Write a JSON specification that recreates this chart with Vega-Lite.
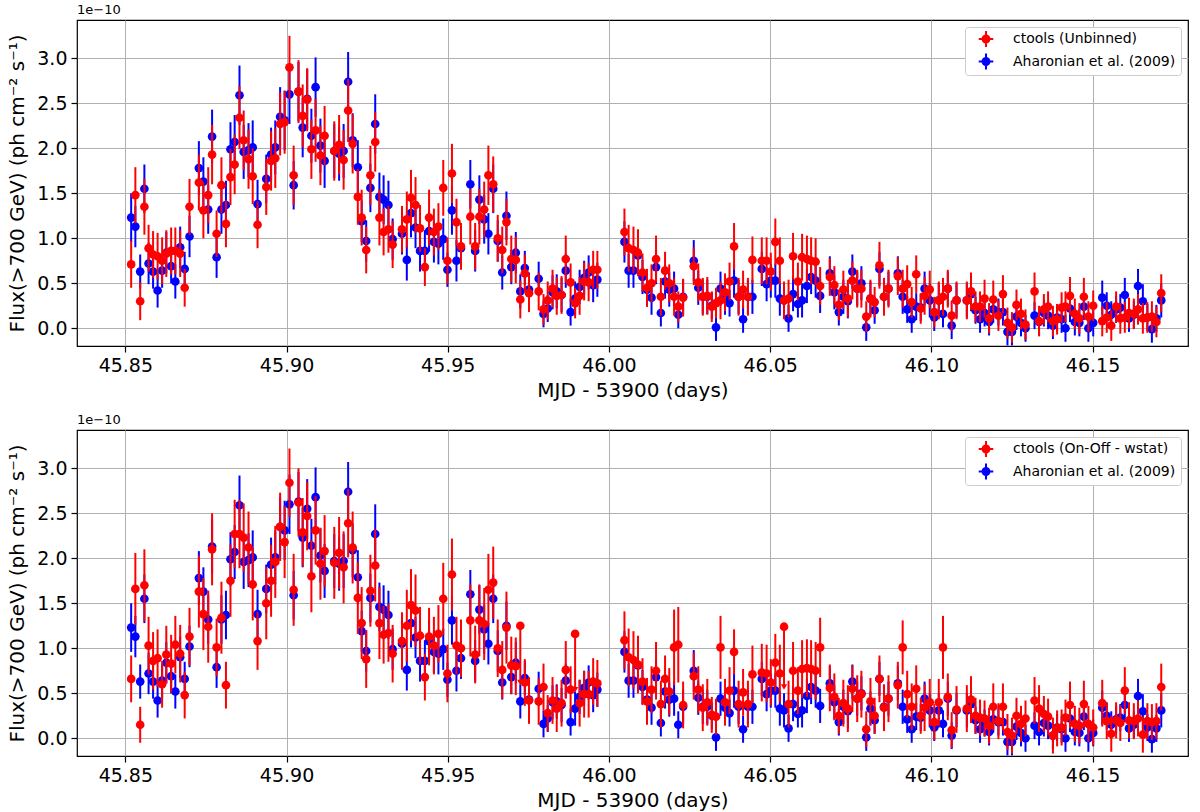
{
"$schema":"https://vega.github.io/schema/vega-lite/v6.json",
"autosize":{"type":"pad"},
"padding":{"left":7,"top":3,"right":10,"bottom":0},
"background":"white",
"data":{"values":[
{"t":45.8518,"b":1.23,"be":0.27,"r":0.71,"re":0.26,"s":0.66,"se":0.26},
{"t":45.8531,"b":1.13,"be":0.23,"r":1.48,"re":0.31,"s":1.66,"se":0.40},
{"t":45.8546,"b":0.63,"be":0.19,"r":0.30,"re":0.21,"s":0.15,"se":0.20},
{"t":45.8559,"b":1.55,"be":0.27,"r":1.35,"re":0.31,"s":1.70,"se":0.40},
{"t":45.8572,"b":0.72,"be":0.23,"r":0.89,"re":0.26,"s":1.03,"se":0.32},
{"t":45.8586,"b":0.63,"be":0.19,"r":0.82,"re":0.26,"s":0.86,"se":0.32},
{"t":45.8600,"b":0.42,"be":0.19,"r":0.80,"re":0.26,"s":0.89,"se":0.32},
{"t":45.8614,"b":0.64,"be":0.19,"r":0.75,"re":0.26,"s":0.60,"se":0.26},
{"t":45.8627,"b":0.84,"be":0.23,"r":0.83,"re":0.26,"s":0.93,"se":0.32},
{"t":45.8642,"b":0.69,"be":0.19,"r":0.86,"re":0.26,"s":0.83,"se":0.32},
{"t":45.8655,"b":0.52,"be":0.19,"r":0.86,"re":0.26,"s":1.04,"se":0.32},
{"t":45.8670,"b":0.90,"be":0.23,"r":0.83,"re":0.26,"s":0.94,"se":0.32},
{"t":45.8684,"b":0.66,"be":0.19,"r":0.45,"re":0.21,"s":0.48,"se":0.26},
{"t":45.8699,"b":1.02,"be":0.23,"r":1.35,"re":0.31,"s":1.13,"se":0.32},
{"t":45.8728,"b":1.78,"be":0.30,"r":1.62,"re":0.31,"s":1.63,"se":0.40},
{"t":45.8742,"b":1.63,"be":0.27,"r":1.31,"re":0.31,"s":1.38,"se":0.40},
{"t":45.8757,"b":1.32,"be":0.27,"r":1.48,"re":0.31,"s":1.24,"se":0.40},
{"t":45.8769,"b":2.13,"be":0.30,"r":1.93,"re":0.33,"s":2.10,"se":0.40},
{"t":45.8783,"b":0.79,"be":0.23,"r":1.05,"re":0.26,"s":1.01,"se":0.32},
{"t":45.8798,"b":1.32,"be":0.27,"r":1.59,"re":0.31,"s":1.34,"se":0.40},
{"t":45.8812,"b":1.37,"be":0.27,"r":1.16,"re":0.26,"s":0.59,"se":0.26},
{"t":45.8826,"b":1.99,"be":0.30,"r":1.68,"re":0.31,"s":1.75,"se":0.40},
{"t":45.8839,"b":2.07,"be":0.30,"r":1.82,"re":0.33,"s":2.27,"se":0.38},
{"t":45.8854,"b":2.59,"be":0.33,"r":2.34,"re":0.35,"s":2.27,"se":0.38},
{"t":45.8867,"b":1.96,"be":0.30,"r":2.09,"re":0.33,"s":2.23,"se":0.38},
{"t":45.8882,"b":1.98,"be":0.30,"r":1.88,"re":0.33,"s":2.12,"se":0.40},
{"t":45.8895,"b":2.01,"be":0.30,"r":1.69,"re":0.31,"s":1.71,"se":0.40},
{"t":45.8910,"b":1.38,"be":0.27,"r":1.15,"re":0.26,"s":1.08,"se":0.32},
{"t":45.8937,"b":1.66,"be":0.27,"r":1.57,"re":0.31,"s":1.50,"se":0.40},
{"t":45.8952,"b":1.93,"be":0.30,"r":1.86,"re":0.33,"s":1.75,"se":0.40},
{"t":45.8965,"b":2.01,"be":0.30,"r":1.89,"re":0.33,"s":1.96,"se":0.40},
{"t":45.8980,"b":2.35,"be":0.33,"r":2.27,"re":0.35,"s":2.35,"se":0.38},
{"t":45.8994,"b":2.31,"be":0.33,"r":2.29,"re":0.35,"s":2.18,"se":0.40},
{"t":45.9009,"b":2.60,"be":0.33,"r":2.90,"re":0.35,"s":2.84,"se":0.38},
{"t":45.9022,"b":1.59,"be":0.27,"r":1.70,"re":0.33,"s":1.65,"se":0.40},
{"t":45.9037,"b":2.63,"be":0.33,"r":2.63,"re":0.35,"s":2.62,"se":0.38},
{"t":45.9050,"b":2.23,"be":0.33,"r":2.36,"re":0.35,"s":2.29,"se":0.38},
{"t":45.9064,"b":2.55,"be":0.33,"r":2.54,"re":0.35,"s":2.47,"se":0.38},
{"t":45.9077,"b":2.14,"be":0.30,"r":1.99,"re":0.33,"s":1.80,"se":0.40},
{"t":45.9090,"b":2.68,"be":0.33,"r":2.20,"re":0.35,"s":2.31,"se":0.38},
{"t":45.9105,"b":2.03,"be":0.30,"r":1.92,"re":0.33,"s":1.94,"se":0.40},
{"t":45.9118,"b":1.86,"be":0.30,"r":2.14,"re":0.33,"s":2.08,"se":0.40},
{"t":45.9148,"b":1.97,"be":0.30,"r":1.97,"re":0.33,"s":1.95,"se":0.40},
{"t":45.9163,"b":1.94,"be":0.30,"r":2.04,"re":0.33,"s":2.06,"se":0.40},
{"t":45.9177,"b":1.97,"be":0.30,"r":1.87,"re":0.33,"s":1.90,"se":0.40},
{"t":45.9191,"b":2.74,"be":0.33,"r":2.42,"re":0.35,"s":2.39,"se":0.38},
{"t":45.9205,"b":2.09,"be":0.30,"r":2.05,"re":0.33,"s":2.12,"se":0.40},
{"t":45.9221,"b":1.79,"be":0.30,"r":1.46,"re":0.31,"s":1.56,"se":0.40},
{"t":45.9233,"b":1.19,"be":0.23,"r":1.23,"re":0.31,"s":1.28,"se":0.40},
{"t":45.9247,"b":0.97,"be":0.23,"r":0.87,"re":0.26,"s":0.88,"se":0.32},
{"t":45.9260,"b":1.56,"be":0.27,"r":1.70,"re":0.33,"s":1.64,"se":0.40},
{"t":45.9275,"b":2.27,"be":0.33,"r":2.07,"re":0.33,"s":1.92,"se":0.40},
{"t":45.9288,"b":1.46,"be":0.27,"r":1.23,"re":0.31,"s":1.28,"se":0.40},
{"t":45.9301,"b":1.43,"be":0.27,"r":1.07,"re":0.26,"s":1.15,"se":0.32},
{"t":45.9316,"b":1.37,"be":0.27,"r":1.10,"re":0.26,"s":1.17,"se":0.32},
{"t":45.9329,"b":0.99,"be":0.23,"r":0.93,"re":0.26,"s":0.94,"se":0.32},
{"t":45.9358,"b":1.05,"be":0.23,"r":1.10,"re":0.26,"s":1.08,"se":0.32},
{"t":45.9373,"b":0.76,"be":0.23,"r":1.21,"re":0.31,"s":1.25,"se":0.40},
{"t":45.9386,"b":1.28,"be":0.27,"r":1.45,"re":0.31,"s":1.48,"se":0.40},
{"t":45.9400,"b":1.12,"be":0.23,"r":1.37,"re":0.31,"s":1.42,"se":0.40},
{"t":45.9414,"b":0.86,"be":0.23,"r":1.11,"re":0.26,"s":1.14,"se":0.32},
{"t":45.9429,"b":0.86,"be":0.23,"r":0.68,"re":0.21,"s":0.68,"se":0.26},
{"t":45.9442,"b":1.08,"be":0.23,"r":1.23,"re":0.31,"s":1.13,"se":0.32},
{"t":45.9457,"b":0.96,"be":0.23,"r":1.07,"re":0.26,"s":1.03,"se":0.32},
{"t":45.9471,"b":0.94,"be":0.23,"r":1.13,"re":0.26,"s":1.16,"se":0.32},
{"t":45.9486,"b":0.99,"be":0.23,"r":1.56,"re":0.31,"s":1.55,"se":0.40},
{"t":45.9499,"b":0.65,"be":0.19,"r":0.75,"re":0.26,"s":0.72,"se":0.32},
{"t":45.9513,"b":1.31,"be":0.27,"r":1.72,"re":0.33,"s":1.82,"se":0.40},
{"t":45.9527,"b":0.75,"be":0.23,"r":1.18,"re":0.26,"s":1.03,"se":0.32},
{"t":45.9541,"b":0.89,"be":0.23,"r":0.91,"re":0.26,"s":1.00,"se":0.32},
{"t":45.9570,"b":1.60,"be":0.27,"r":1.24,"re":0.31,"s":1.31,"se":0.40},
{"t":45.9585,"b":0.86,"be":0.23,"r":0.91,"re":0.26,"s":0.93,"se":0.32},
{"t":45.9598,"b":1.43,"be":0.27,"r":1.24,"re":0.31,"s":1.31,"se":0.40},
{"t":45.9613,"b":1.21,"be":0.27,"r":1.32,"re":0.31,"s":1.27,"se":0.40},
{"t":45.9626,"b":1.05,"be":0.23,"r":1.70,"re":0.33,"s":1.65,"se":0.40},
{"t":45.9641,"b":1.55,"be":0.27,"r":1.60,"re":0.31,"s":1.73,"se":0.40},
{"t":45.9655,"b":0.97,"be":0.23,"r":1.00,"re":0.26,"s":1.00,"se":0.32},
{"t":45.9669,"b":0.62,"be":0.19,"r":0.87,"re":0.26,"s":0.76,"se":0.32},
{"t":45.9682,"b":1.25,"be":0.27,"r":1.18,"re":0.26,"s":1.23,"se":0.40},
{"t":45.9697,"b":0.68,"be":0.19,"r":0.77,"re":0.26,"s":0.81,"se":0.32},
{"t":45.9711,"b":0.84,"be":0.23,"r":0.76,"re":0.26,"s":0.80,"se":0.32},
{"t":45.9725,"b":0.41,"be":0.19,"r":0.32,"re":0.21,"s":1.25,"se":0,"u":0.62},
{"t":45.9739,"b":0.67,"be":0.19,"r":0.61,"re":0.21,"s":0.62,"se":0.26},
{"t":45.9752,"b":0.43,"be":0.19,"r":0.39,"re":0.21,"s":0.42,"se":0.26},
{"t":45.9782,"b":0.55,"be":0.19,"r":0.41,"re":0.21,"s":0.41,"se":0.26},
{"t":45.9797,"b":0.16,"be":0.15,"r":0.21,"re":0.17,"s":0.57,"se":0.26},
{"t":45.9810,"b":0.22,"be":0.15,"r":0.31,"re":0.21,"s":0.28,"se":0.20},
{"t":45.9825,"b":0.40,"be":0.19,"r":0.44,"re":0.21,"s":0.42,"se":0.26},
{"t":45.9838,"b":0.41,"be":0.19,"r":0.36,"re":0.21,"s":0.33,"se":0.26},
{"t":45.9853,"b":0.37,"be":0.19,"r":0.37,"re":0.21,"s":0.39,"se":0.26},
{"t":45.9866,"b":0.64,"be":0.19,"r":0.77,"re":0.26,"s":0.76,"se":0.32},
{"t":45.9881,"b":0.18,"be":0.15,"r":0.51,"re":0.21,"s":0.54,"se":0.26},
{"t":45.9895,"b":0.33,"be":0.19,"r":0.28,"re":0.17,"s":1.16,"se":0,"u":0.54},
{"t":45.9909,"b":0.46,"be":0.19,"r":0.36,"re":0.21,"s":0.39,"se":0.26},
{"t":45.9923,"b":0.56,"be":0.19,"r":0.52,"re":0.21,"s":0.49,"se":0.26},
{"t":45.9937,"b":0.62,"be":0.19,"r":0.51,"re":0.21,"s":0.49,"se":0.26},
{"t":45.9951,"b":0.48,"be":0.19,"r":0.65,"re":0.21,"s":0.63,"se":0.26},
{"t":45.9964,"b":0.54,"be":0.19,"r":0.65,"re":0.21,"s":0.61,"se":0.26},
{"t":46.0048,"b":0.96,"be":0.23,"r":1.07,"re":0.26,"s":1.09,"se":0.32},
{"t":46.0061,"b":0.64,"be":0.19,"r":0.89,"re":0.26,"s":0.90,"se":0.32},
{"t":46.0076,"b":0.64,"be":0.19,"r":0.87,"re":0.26,"s":0.87,"se":0.32},
{"t":46.0090,"b":0.81,"be":0.23,"r":0.84,"re":0.26,"s":0.82,"se":0.32},
{"t":46.0104,"b":0.57,"be":0.19,"r":0.62,"re":0.21,"s":0.63,"se":0.26},
{"t":46.0118,"b":0.43,"be":0.19,"r":0.45,"re":0.21,"s":0.41,"se":0.26},
{"t":46.0132,"b":0.34,"be":0.19,"r":0.50,"re":0.21,"s":0.54,"se":0.26},
{"t":46.0146,"b":0.68,"be":0.19,"r":0.77,"re":0.26,"s":0.75,"se":0.32},
{"t":46.0161,"b":0.17,"be":0.15,"r":0.35,"re":0.21,"s":0.38,"se":0.26},
{"t":46.0174,"b":0.52,"be":0.19,"r":0.64,"re":0.21,"s":0.66,"se":0.26},
{"t":46.0187,"b":0.43,"be":0.19,"r":0.50,"re":0.21,"s":0.52,"se":0.26},
{"t":46.0202,"b":0.44,"be":0.19,"r":0.35,"re":0.21,"s":1.01,"se":0.42},
{"t":46.0215,"b":0.15,"be":0.15,"r":0.24,"re":0.17,"s":1.04,"se":0.42},
{"t":46.0230,"b":0.35,"be":0.19,"r":0.34,"re":0.21,"s":0.37,"se":0.26},
{"t":46.0263,"b":0.75,"be":0.23,"r":0.69,"re":0.21,"s":0.69,"se":0.26},
{"t":46.0277,"b":0.45,"be":0.19,"r":0.51,"re":0.21,"s":0.54,"se":0.26},
{"t":46.0291,"b":0.35,"be":0.19,"r":0.35,"re":0.21,"s":0.34,"se":0.26},
{"t":46.0305,"b":0.35,"be":0.19,"r":0.36,"re":0.21,"s":0.40,"se":0.26},
{"t":46.0319,"b":0.25,"be":0.15,"r":0.24,"re":0.17,"s":0.26,"se":0.20},
{"t":46.0332,"b":0.01,"be":0.15,"r":0.28,"re":0.17,"s":0.24,"se":0.20},
{"t":46.0346,"b":0.44,"be":0.19,"r":0.31,"re":0.21,"s":1.01,"se":0.35},
{"t":46.0360,"b":0.34,"be":0.19,"r":0.40,"re":0.21,"s":0.40,"se":0.26},
{"t":46.0374,"b":0.28,"be":0.15,"r":0.52,"re":0.21,"s":0.53,"se":0.26},
{"t":46.0388,"b":0.53,"be":0.19,"r":0.91,"re":0.26,"s":0.96,"se":0.25},
{"t":46.0402,"b":0.35,"be":0.19,"r":0.35,"re":0.21,"s":0.38,"se":0.26},
{"t":46.0416,"b":0.10,"be":0.15,"r":0.43,"re":0.21,"s":0.51,"se":0.26},
{"t":46.0431,"b":0.35,"be":0.19,"r":0.35,"re":0.21,"s":0.38,"se":0.26},
{"t":46.0445,"b":0.35,"be":0.19,"r":0.76,"re":0.26,"s":0.71,"se":0.32},
{"t":46.0474,"b":0.66,"be":0.19,"r":0.75,"re":0.26,"s":0.73,"se":0.32},
{"t":46.0489,"b":0.49,"be":0.19,"r":0.75,"re":0.26,"s":0.72,"se":0.32},
{"t":46.0502,"b":0.53,"be":0.19,"r":0.63,"re":0.21,"s":0.62,"se":0.26},
{"t":46.0516,"b":0.53,"be":0.19,"r":0.96,"re":0.26,"s":0.84,"se":0.32},
{"t":46.0530,"b":0.33,"be":0.19,"r":0.75,"re":0.26,"s":0.72,"se":0.32},
{"t":46.0543,"b":0.31,"be":0.19,"r":0.31,"re":0.21,"s":1.24,"se":0,"u":0.57},
{"t":46.0557,"b":0.11,"be":0.15,"r":0.33,"re":0.21,"s":0.38,"se":0.26},
{"t":46.0571,"b":0.38,"be":0.19,"r":0.80,"re":0.26,"s":0.75,"se":0.32},
{"t":46.0586,"b":0.27,"be":0.15,"r":0.52,"re":0.21,"s":0.53,"se":0.26},
{"t":46.0599,"b":0.31,"be":0.19,"r":0.79,"re":0.26,"s":0.77,"se":0.32},
{"t":46.0614,"b":0.47,"be":0.19,"r":0.77,"re":0.26,"s":0.78,"se":0.32},
{"t":46.0627,"b":0.57,"be":0.19,"r":0.75,"re":0.26,"s":0.77,"se":0.32},
{"t":46.0641,"b":0.53,"be":0.19,"r":0.74,"re":0.26,"s":0.75,"se":0.32},
{"t":46.0655,"b":0.36,"be":0.19,"r":0.47,"re":0.21,"s":1.01,"se":0.33},
{"t":46.0685,"b":0.61,"be":0.19,"r":0.57,"re":0.21,"s":0.56,"se":0.26},
{"t":46.0699,"b":0.40,"be":0.19,"r":0.48,"re":0.21,"s":0.46,"se":0.26},
{"t":46.0713,"b":0.18,"be":0.15,"r":0.26,"re":0.17,"s":0.25,"se":0.20},
{"t":46.0727,"b":0.35,"be":0.19,"r":0.43,"re":0.21,"s":0.39,"se":0.26},
{"t":46.0741,"b":0.30,"be":0.19,"r":0.33,"re":0.21,"s":0.33,"se":0.26},
{"t":46.0755,"b":0.63,"be":0.19,"r":0.53,"re":0.21,"s":0.55,"se":0.26},
{"t":46.0770,"b":0.44,"be":0.19,"r":0.44,"re":0.21,"s":0.44,"se":0.26},
{"t":46.0783,"b":0.50,"be":0.19,"r":0.44,"re":0.21,"s":0.49,"se":0.26},
{"t":46.0798,"b":0.01,"be":0.15,"r":0.13,"re":0.17,"s":0.10,"se":0.20},
{"t":46.0811,"b":0.33,"be":0.19,"r":0.33,"re":0.21,"s":0.41,"se":0.26},
{"t":46.0824,"b":0.20,"be":0.15,"r":0.29,"re":0.17,"s":0.25,"se":0.20},
{"t":46.0839,"b":0.66,"be":0.19,"r":0.70,"re":0.26,"s":0.66,"se":0.26},
{"t":46.0853,"b":0.35,"be":0.19,"r":0.35,"re":0.21,"s":0.34,"se":0.26},
{"t":46.0867,"b":0.44,"be":0.19,"r":0.44,"re":0.21,"s":0.44,"se":0.26},
{"t":46.0896,"b":0.61,"be":0.19,"r":0.58,"re":0.21,"s":0.59,"se":0.26},
{"t":46.0911,"b":0.35,"be":0.19,"r":0.44,"re":0.21,"s":1.01,"se":0.30},
{"t":46.0925,"b":0.21,"be":0.15,"r":0.49,"re":0.21,"s":0.49,"se":0.26},
{"t":46.0939,"b":0.10,"be":0.15,"r":0.29,"re":0.17,"s":0.35,"se":0.26},
{"t":46.0953,"b":0.24,"be":0.15,"r":0.60,"re":0.21,"s":0.55,"se":0.26},
{"t":46.0967,"b":0.23,"be":0.15,"r":0.22,"re":0.17,"s":0.25,"se":0.20},
{"t":46.0979,"b":0.44,"be":0.19,"r":0.36,"re":0.21,"s":0.34,"se":0.26},
{"t":46.0995,"b":0.31,"be":0.19,"r":0.43,"re":0.21,"s":0.40,"se":0.26},
{"t":46.1009,"b":0.12,"be":0.15,"r":0.18,"re":0.17,"s":0.18,"se":0.20},
{"t":46.1023,"b":0.31,"be":0.19,"r":0.31,"re":0.21,"s":0.40,"se":0.26},
{"t":46.1036,"b":0.16,"be":0.15,"r":0.35,"re":0.21,"s":1.01,"se":0.35},
{"t":46.1051,"b":0.44,"be":0.19,"r":0.44,"re":0.21,"s":0.46,"se":0.26},
{"t":46.1063,"b":0.03,"be":0.15,"r":0.14,"re":0.17,"s":0.09,"se":0.20},
{"t":46.1078,"b":0.31,"be":0.19,"r":0.31,"re":0.21,"s":0.32,"se":0.26},
{"t":46.1110,"b":0.31,"be":0.19,"r":0.31,"re":0.21,"s":0.33,"se":0.26},
{"t":46.1123,"b":0.38,"be":0.19,"r":0.41,"re":0.21,"s":0.43,"se":0.26},
{"t":46.1137,"b":0.20,"be":0.15,"r":0.24,"re":0.17,"s":0.25,"se":0.20},
{"t":46.1151,"b":0.10,"be":0.15,"r":0.24,"re":0.17,"s":0.23,"se":0.20},
{"t":46.1165,"b":0.17,"be":0.15,"r":0.33,"re":0.21,"s":0.22,"se":0.20},
{"t":46.1179,"b":0.07,"be":0.15,"r":0.11,"re":0.17,"s":0.14,"se":0.20},
{"t":46.1192,"b":0.21,"be":0.15,"r":0.32,"re":0.21,"s":0.35,"se":0.26},
{"t":46.1208,"b":0.18,"be":0.15,"r":0.14,"re":0.17,"s":0.19,"se":0.20},
{"t":46.1222,"b":0.18,"be":0.15,"r":0.38,"re":0.21,"s":0.35,"se":0.26},
{"t":46.1236,"b":-0.04,"be":0.15,"r":0.06,"re":0.17,"s":0.07,"se":0.20},
{"t":46.1250,"b":-0.04,"be":0.15,"r":0.01,"re":0.17,"s":0.03,"se":0.20},
{"t":46.1264,"b":0.13,"be":0.15,"r":0.26,"re":0.17,"s":0.25,"se":0.20},
{"t":46.1278,"b":0.06,"be":0.15,"r":0.16,"re":0.17,"s":0.16,"se":0.20},
{"t":46.1292,"b":0.00,"be":0.15,"r":0.04,"re":0.17,"s":0.22,"se":0.20},
{"t":46.1320,"b":0.14,"be":0.15,"r":0.41,"re":0.21,"s":0.42,"se":0.26},
{"t":46.1334,"b":0.07,"be":0.15,"r":0.08,"re":0.17,"s":0.33,"se":0.26},
{"t":46.1349,"b":0.17,"be":0.15,"r":0.21,"re":0.17,"s":0.27,"se":0.20},
{"t":46.1362,"b":0.14,"be":0.15,"r":0.24,"re":0.17,"s":0.24,"se":0.20},
{"t":46.1377,"b":0.03,"be":0.15,"r":0.08,"re":0.17,"s":0.03,"se":0.20},
{"t":46.1390,"b":0.12,"be":0.15,"r":0.10,"re":0.17,"s":0.11,"se":0.20},
{"t":46.1404,"b":0.10,"be":0.15,"r":0.23,"re":0.17,"s":0.12,"se":0.20},
{"t":46.1416,"b":0.00,"be":0.15,"r":0.24,"re":0.17,"s":0.23,"se":0.20},
{"t":46.1430,"b":0.22,"be":0.15,"r":0.36,"re":0.21,"s":0.37,"se":0.26},
{"t":46.1445,"b":0.07,"be":0.15,"r":0.16,"re":0.17,"s":0.16,"se":0.20},
{"t":46.1459,"b":0.06,"be":0.15,"r":0.11,"re":0.17,"s":0.14,"se":0.20},
{"t":46.1473,"b":0.24,"be":0.15,"r":0.35,"re":0.21,"s":0.38,"se":0.26},
{"t":46.1487,"b":0.00,"be":0.15,"r":0.13,"re":0.17,"s":0.16,"se":0.20},
{"t":46.1502,"b":0.06,"be":0.15,"r":0.25,"re":0.17,"s":0.12,"se":0.20},
{"t":46.1530,"b":0.34,"be":0.19,"r":0.08,"re":0.17,"s":0.39,"se":0.26},
{"t":46.1544,"b":0.25,"be":0.15,"r":0.12,"re":0.17,"s":0.19,"se":0.20},
{"t":46.1558,"b":0.15,"be":0.15,"r":0.03,"re":0.17,"s":0.05,"se":0.20},
{"t":46.1573,"b":0.21,"be":0.15,"r":0.24,"re":0.17,"s":0.20,"se":0.20},
{"t":46.1586,"b":0.23,"be":0.15,"r":0.11,"re":0.17,"s":0.17,"se":0.20},
{"t":46.1600,"b":0.37,"be":0.19,"r":0.12,"re":0.17,"s":0.53,"se":0.26},
{"t":46.1613,"b":0.11,"be":0.15,"r":0.17,"re":0.17,"s":0.20,"se":0.20},
{"t":46.1628,"b":0.15,"be":0.15,"r":0.16,"re":0.17,"s":0.19,"se":0.20},
{"t":46.1641,"b":0.47,"be":0.19,"r":0.21,"re":0.17,"s":0.22,"se":0.20},
{"t":46.1656,"b":0.30,"be":0.19,"r":0.11,"re":0.17,"s":0.04,"se":0.20},
{"t":46.1670,"b":0.12,"be":0.15,"r":0.12,"re":0.17,"s":0.19,"se":0.20},
{"t":46.1684,"b":-0.01,"be":0.15,"r":0.13,"re":0.17,"s":0.18,"se":0.20},
{"t":46.1698,"b":0.11,"be":0.15,"r":0.07,"re":0.17,"s":0.19,"se":0.20},
{"t":46.1713,"b":0.31,"be":0.19,"r":0.39,"re":0.21,"s":0.57,"se":0.26}
]},
"vconcat":[
{
"width":1111,"height":326,
"title":{"text":"1e−10","anchor":"start","frame":"group","fontSize":13,"font":"DejaVu Sans","fontWeight":"normal","offset":3,"color":"black"},
"encoding":{"x":{"field":"t","type":"quantitative","title":"MJD - 53900 (days)","scale":{"domain":[45.835,46.1796],"nice":false,"zero":false},"axis":{"values":[45.85,45.9,45.95,46.0,46.05,46.1,46.15],"format":".2f","labelFlush":false,"labelOverlap":false,"titlePadding":5}}},
"layer":[
{"mark":{"type":"errorbar","color":"#0000ff","thickness":2},"encoding":{"y":{"field":"b","type":"quantitative","title":"Flux(>700 GeV) (ph cm⁻² s⁻¹)","scale":{"domain":[-0.197,3.426],"nice":false,"zero":false},"axis":{"values":[0,0.5,1,1.5,2,2.5,3],"format":".1f","titlePadding":9}},"yError":{"field":"be"}}},
{"mark":{"type":"point","filled":true,"shape":"circle","size":75,"opacity":1,"strokeWidth":0},"encoding":{"y":{"field":"b","type":"quantitative","title":"Flux(>700 GeV) (ph cm⁻² s⁻¹)"},"color":{"datum":"Aharonian et al. (2009)","type":"nominal","scale":{"domain":["ctools (Unbinned)","Aharonian et al. (2009)"],"range":["#ff0000","#0000ff"]},"legend":{"title":null}}}},
{"mark":{"type":"errorbar","color":"#ff0000","thickness":2},"encoding":{"y":{"field":"r","type":"quantitative","title":"Flux(>700 GeV) (ph cm⁻² s⁻¹)"},"yError":{"field":"re"}}},
{"mark":{"type":"point","filled":true,"shape":"circle","size":75,"opacity":1,"strokeWidth":0},"encoding":{"y":{"field":"r","type":"quantitative","title":"Flux(>700 GeV) (ph cm⁻² s⁻¹)"},"color":{"datum":"ctools (Unbinned)","type":"nominal","scale":{"domain":["ctools (Unbinned)","Aharonian et al. (2009)"],"range":["#ff0000","#0000ff"]},"legend":{"title":null}}}}
]
},
{
"width":1111,"height":326,
"title":{"text":"1e−10","anchor":"start","frame":"group","fontSize":13,"font":"DejaVu Sans","fontWeight":"normal","offset":3,"color":"black"},
"encoding":{"x":{"field":"t","type":"quantitative","title":"MJD - 53900 (days)","scale":{"domain":[45.835,46.1796],"nice":false,"zero":false},"axis":{"values":[45.85,45.9,45.95,46.0,46.05,46.1,46.15],"format":".2f","labelFlush":false,"labelOverlap":false,"titlePadding":5}}},
"layer":[
{"mark":{"type":"errorbar","color":"#0000ff","thickness":2},"encoding":{"y":{"field":"b","type":"quantitative","title":"Flux(>700 GeV) (ph cm⁻² s⁻¹)","scale":{"domain":[-0.197,3.426],"nice":false,"zero":false},"axis":{"values":[0,0.5,1,1.5,2,2.5,3],"format":".1f","titlePadding":9}},"yError":{"field":"be"}}},
{"mark":{"type":"point","filled":true,"shape":"circle","size":75,"opacity":1,"strokeWidth":0},"encoding":{"y":{"field":"b","type":"quantitative","title":"Flux(>700 GeV) (ph cm⁻² s⁻¹)"},"color":{"datum":"Aharonian et al. (2009)","type":"nominal","scale":{"domain":["ctools (On-Off - wstat)","Aharonian et al. (2009)"],"range":["#ff0000","#0000ff"]},"legend":{"title":null}}}},
{"mark":{"type":"errorbar","color":"#ff0000","thickness":2},"encoding":{"y":{"field":"s","type":"quantitative","title":"Flux(>700 GeV) (ph cm⁻² s⁻¹)"},"yError":{"field":"se"}}},
{"transform":[{"filter":"isValid(datum.u)"}],"mark":{"type":"rule","color":"#ff0000","strokeWidth":2},"encoding":{"y":{"field":"s","type":"quantitative","title":"Flux(>700 GeV) (ph cm⁻² s⁻¹)"},"y2":{"field":"u"}}},
{"transform":[{"filter":"isValid(datum.u)"}],"mark":{"type":"point","filled":true,"shape":"triangle-down","size":40,"opacity":1,"color":"#ff0000","strokeWidth":0},"encoding":{"y":{"field":"u","type":"quantitative","title":"Flux(>700 GeV) (ph cm⁻² s⁻¹)"}}},
{"mark":{"type":"point","filled":true,"shape":"circle","size":75,"opacity":1,"strokeWidth":0},"encoding":{"y":{"field":"s","type":"quantitative","title":"Flux(>700 GeV) (ph cm⁻² s⁻¹)"},"color":{"datum":"ctools (On-Off - wstat)","type":"nominal","scale":{"domain":["ctools (On-Off - wstat)","Aharonian et al. (2009)"],"range":["#ff0000","#0000ff"]},"legend":{"title":null}}}}
]
}
],
"spacing":84,
"bounds":"flush",
"resolve":{"scale":{"color":"independent","x":"independent","y":"independent"},"legend":{"color":"independent"}},
"config":{
"font":"DejaVu Sans",
"view":{"stroke":"black","strokeWidth":1.2},
"axis":{"labelFont":"DejaVu Sans","labelFontSize":19,"labelColor":"black","titleFont":"DejaVu Sans","titleFontSize":20,"titleFontWeight":"normal","titleColor":"black","tickColor":"black","tickSize":6,"tickWidth":1.2,"domain":false,"grid":true,"gridColor":"#b0b0b0","gridWidth":1,"labelPadding":4},
"legend":{"orient":"top-right","offset":7,"padding":5,"strokeColor":"#cccccc","fillColor":"white","cornerRadius":3,"labelFont":"DejaVu Sans","labelFontSize":14,"labelColor":"black","labelLimit":300,"symbolType":"M0.9,0A0.9,0.9,0,1,1,-0.9,0A0.9,0.9,0,1,1,0.9,0ZM-0.2,-1.6L0.2,-1.6L0.2,1.6L-0.2,1.6ZM-1.46,-0.2L1.46,-0.2L1.46,0.2L-1.46,0.2Z","symbolSize":100,"symbolOffset":9,"labelOffset":20,"rowPadding":6.6,"symbolOpacity":1,"symbolStrokeWidth":0}
}
}
